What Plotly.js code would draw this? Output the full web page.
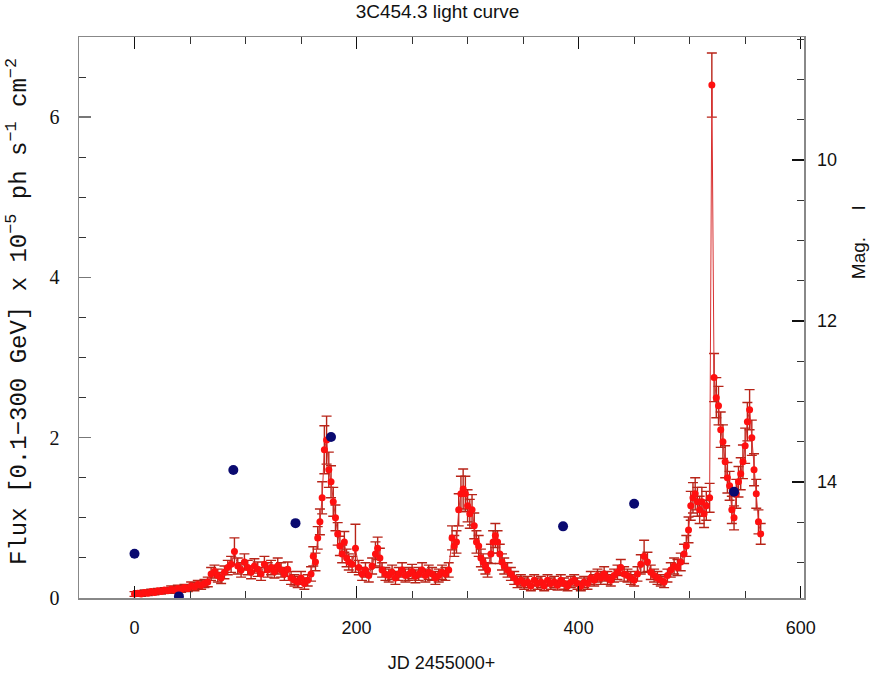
<!DOCTYPE html>
<html>
<head>
<meta charset="utf-8">
<script src="https://cdn.plot.ly/plotly-3.0.1.min.js"></script>
<style>html,body{margin:0;padding:0;background:#fff;}</style>
</head>
<body>
<div id="chart" style="width:875px;height:680px;"></div>
<script>
// Fermi-LAT flux light curve (JD - 2455000, flux 1e-5 ph/s/cm2, error)
const jd = [0,3,6,9,12,15,18,21,24,27,30,33,36,39,42,45,48,51,54,57,60,63,66,69,72,75,78,81,84,87,90,93,96,99,102,105,108,111,114,117,120,123,126,129,132,135,138,141,144,147,150,153,156,159,161,163,165,167,169,171,173,175,177,179,181,183,185,187,189,191,193,196,199,202,205,208,211,214,217,219,221,223,226,229,232,235,238,241,244,247,250,253,256,259,262,265,268,271,274,277,280,283,286,288,290,292,294,296,298,300,302,304,306,308,310,312,314,316,318,321,323,325,327,329,331,333,336,339,342,345,348,351,354,357,360,363,366,369,372,375,378,381,384,387,390,393,396,399,402,405,408,411,414,417,420,423,426,429,432,435,438,441,444,447,450,453,456,459,462,465,468,471,474,477,480,483,486,489,492,495,497,499,501,503,505,507,509,511,513,515,518,520,522,524,526,528,530,532,534,536,538,540,542,544,546,548,550,552,554,556,558,560,562,564];
const flux = [0.05,0.06,0.05,0.07,0.06,0.08,0.07,0.09,0.08,0.10,0.09,0.11,0.10,0.12,0.11,0.13,0.12,0.15,0.14,0.17,0.16,0.18,0.20,0.30,0.33,0.28,0.25,0.32,0.38,0.42,0.58,0.40,0.35,0.45,0.38,0.32,0.40,0.36,0.30,0.42,0.35,0.38,0.33,0.40,0.35,0.30,0.36,0.25,0.22,0.20,0.25,0.18,0.22,0.30,0.52,0.45,0.75,0.95,1.25,1.85,1.97,1.60,1.45,1.20,1.00,0.80,0.65,0.55,0.70,0.50,0.45,0.42,0.62,0.38,0.30,0.35,0.28,0.40,0.55,0.62,0.50,0.35,0.30,0.28,0.32,0.25,0.30,0.35,0.28,0.30,0.33,0.27,0.30,0.35,0.28,0.32,0.30,0.25,0.28,0.32,0.30,0.35,0.75,0.65,0.70,1.10,1.30,1.36,1.30,1.15,1.05,1.10,0.90,0.70,0.65,0.50,0.45,0.40,0.35,0.55,0.70,0.78,0.70,0.55,0.45,0.40,0.35,0.30,0.25,0.20,0.22,0.18,0.20,0.15,0.22,0.18,0.20,0.15,0.22,0.18,0.20,0.16,0.22,0.18,0.15,0.20,0.22,0.18,0.15,0.20,0.18,0.25,0.22,0.28,0.25,0.30,0.25,0.22,0.28,0.32,0.38,0.30,0.28,0.25,0.22,0.30,0.42,0.52,0.45,0.32,0.28,0.25,0.22,0.20,0.28,0.35,0.40,0.38,0.45,0.55,0.65,0.85,1.15,1.25,1.30,1.20,1.10,1.20,1.05,1.15,1.25,6.40,2.75,2.50,2.40,2.10,1.95,1.70,1.50,1.40,1.10,1.00,1.30,1.45,1.55,1.70,1.90,2.20,2.35,2.00,1.60,1.30,0.95,0.80];
const fluxErr = [0.03,0.03,0.03,0.03,0.03,0.03,0.03,0.03,0.03,0.03,0.03,0.04,0.04,0.04,0.04,0.04,0.04,0.05,0.05,0.05,0.05,0.05,0.06,0.08,0.08,0.08,0.07,0.08,0.09,0.10,0.17,0.10,0.09,0.10,0.09,0.08,0.09,0.09,0.08,0.10,0.09,0.09,0.08,0.10,0.09,0.08,0.09,0.08,0.07,0.07,0.08,0.07,0.07,0.09,0.12,0.11,0.14,0.16,0.20,0.30,0.30,0.22,0.20,0.18,0.16,0.14,0.12,0.11,0.13,0.11,0.10,0.10,0.30,0.09,0.08,0.09,0.08,0.10,0.15,0.14,0.12,0.09,0.08,0.08,0.09,0.08,0.08,0.09,0.08,0.08,0.09,0.08,0.08,0.09,0.08,0.09,0.08,0.08,0.08,0.09,0.08,0.09,0.15,0.13,0.14,0.20,0.22,0.25,0.22,0.20,0.18,0.19,0.16,0.14,0.13,0.11,0.10,0.10,0.09,0.12,0.14,0.15,0.14,0.12,0.10,0.10,0.09,0.08,0.08,0.07,0.07,0.07,0.07,0.06,0.07,0.07,0.07,0.06,0.07,0.07,0.07,0.06,0.07,0.07,0.06,0.07,0.07,0.07,0.06,0.07,0.07,0.08,0.07,0.08,0.08,0.09,0.08,0.07,0.08,0.09,0.10,0.09,0.08,0.08,0.07,0.09,0.12,0.20,0.12,0.09,0.08,0.08,0.07,0.07,0.08,0.09,0.10,0.10,0.11,0.12,0.13,0.16,0.18,0.19,0.20,0.18,0.17,0.18,0.17,0.18,0.18,0.40,0.30,0.25,0.24,0.22,0.21,0.20,0.19,0.18,0.17,0.15,0.18,0.19,0.20,0.21,0.22,0.24,0.25,0.22,0.20,0.18,0.15,0.13];

// Optical I-band magnitudes (right axis)
const magJd = [0,40,89,145,177,386,450,540];
const magI  = [14.89,15.42,13.85,14.51,13.44,14.55,14.27,14.12];

const tickFont = {family: '"Liberation Sans Narrow", "Arial Narrow", "Liberation Sans", sans-serif', size: 18, color: '#111'};

const traces = [
  {
    x: jd, y: flux, type: 'scatter', mode: 'lines+markers',
    line: {color: '#d83030', width: 1},
    marker: {color: '#ff1010', size: 7, symbol: 'circle'},
    error_y: {type: 'data', array: fluxErr, visible: true, color: '#b82418', thickness: 1.4, width: 5},
    xaxis: 'x', yaxis: 'y', showlegend: false, hoverinfo: 'x+y'
  },
  {
    x: magJd, y: magI, type: 'scatter', mode: 'markers',
    marker: {color: '#0a0a70', size: 10, symbol: 'circle'},
    xaxis: 'x', yaxis: 'y2', showlegend: false
  }
];

const layout = {
  width: 875, height: 680,
  margin: {l: 79, r: 71, t: 37, b: 82},
  paper_bgcolor: '#fff', plot_bgcolor: '#fff',
  title: {text: '3C454.3 light curve', font: {family: tickFont.family, size: 19, color: '#111'},
          x: 0.5, xanchor: 'center', y: 0.984, yanchor: 'middle', yref: 'container'},
  xaxis: {
    range: [-50, 603], showgrid: false, zeroline: false,
    showline: true, linecolor: '#888', linewidth: 1.5, mirror: 'ticks',
    ticks: 'inside', ticklen: 12, tickwidth: 1.5, tickcolor: '#111',
    tick0: 0, dtick: 200, tickfont: tickFont, ticklabelstandoff: 13,
    minor: {dtick: 50, ticks: 'inside', ticklen: 7, tickwidth: 1, tickcolor: '#333'},
    title: {text: 'JD 2455000+', font: {family: tickFont.family, size: 18, color: '#111'}, standoff: 19}
  },
  yaxis: {
    range: [0, 7], showgrid: false, zeroline: false,
    showline: true, linecolor: '#888', linewidth: 1.5,
    ticks: 'inside', ticklen: 12, tickwidth: 1.5, tickcolor: '#777',
    tick0: 0, dtick: 2, ticklabelstandoff: 14,
    tickfont: {family: '"Liberation Serif", "DejaVu Serif", serif', size: 20, color: '#111'},
    minor: {dtick: 0.5, ticks: 'inside', ticklen: 7, tickwidth: 1, tickcolor: '#333'}
  },
  yaxis2: {
    overlaying: 'y', side: 'right', range: [15.44, 8.47],
    showgrid: false, zeroline: false,
    showline: true, linecolor: '#888', linewidth: 1.5,
    ticks: 'inside', ticklen: 12, tickwidth: 1.5, tickcolor: '#111',
    tick0: 10, dtick: 2, ticklabelstandoff: 8,
    tickfont: {family: '"Liberation Sans", Arial, sans-serif', size: 18, color: '#111'},
    minor: {dtick: 0.5, ticks: 'inside', ticklen: 7, tickwidth: 1, tickcolor: '#333'}
  },
  annotations: [
    {text: 'Flux [0.1\u2212300 GeV] x 10<sup>\u22125</sup> ph s<sup>\u22121</sup> cm<sup>\u22122</sup>',
     xref: 'paper', yref: 'paper', x: -0.084, y: 0.51,
     xanchor: 'center', yanchor: 'middle', textangle: -90, showarrow: false,
     font: {family: '"Liberation Mono", "DejaVu Sans Mono", monospace', size: 24, color: '#111'}},
    {text: 'Mag.&nbsp;&nbsp;&nbsp;&nbsp;&nbsp;I', xref: 'paper', yref: 'paper', x: 1.075, y: 0.635,
     xanchor: 'center', yanchor: 'middle', textangle: -90, showarrow: false,
     font: {family: '"Liberation Sans", Arial, sans-serif', size: 19, color: '#111'}}
  ]
};

Plotly.newPlot('chart', traces, layout, {displayModeBar: false, staticPlot: true});
</script>
</body>
</html>
